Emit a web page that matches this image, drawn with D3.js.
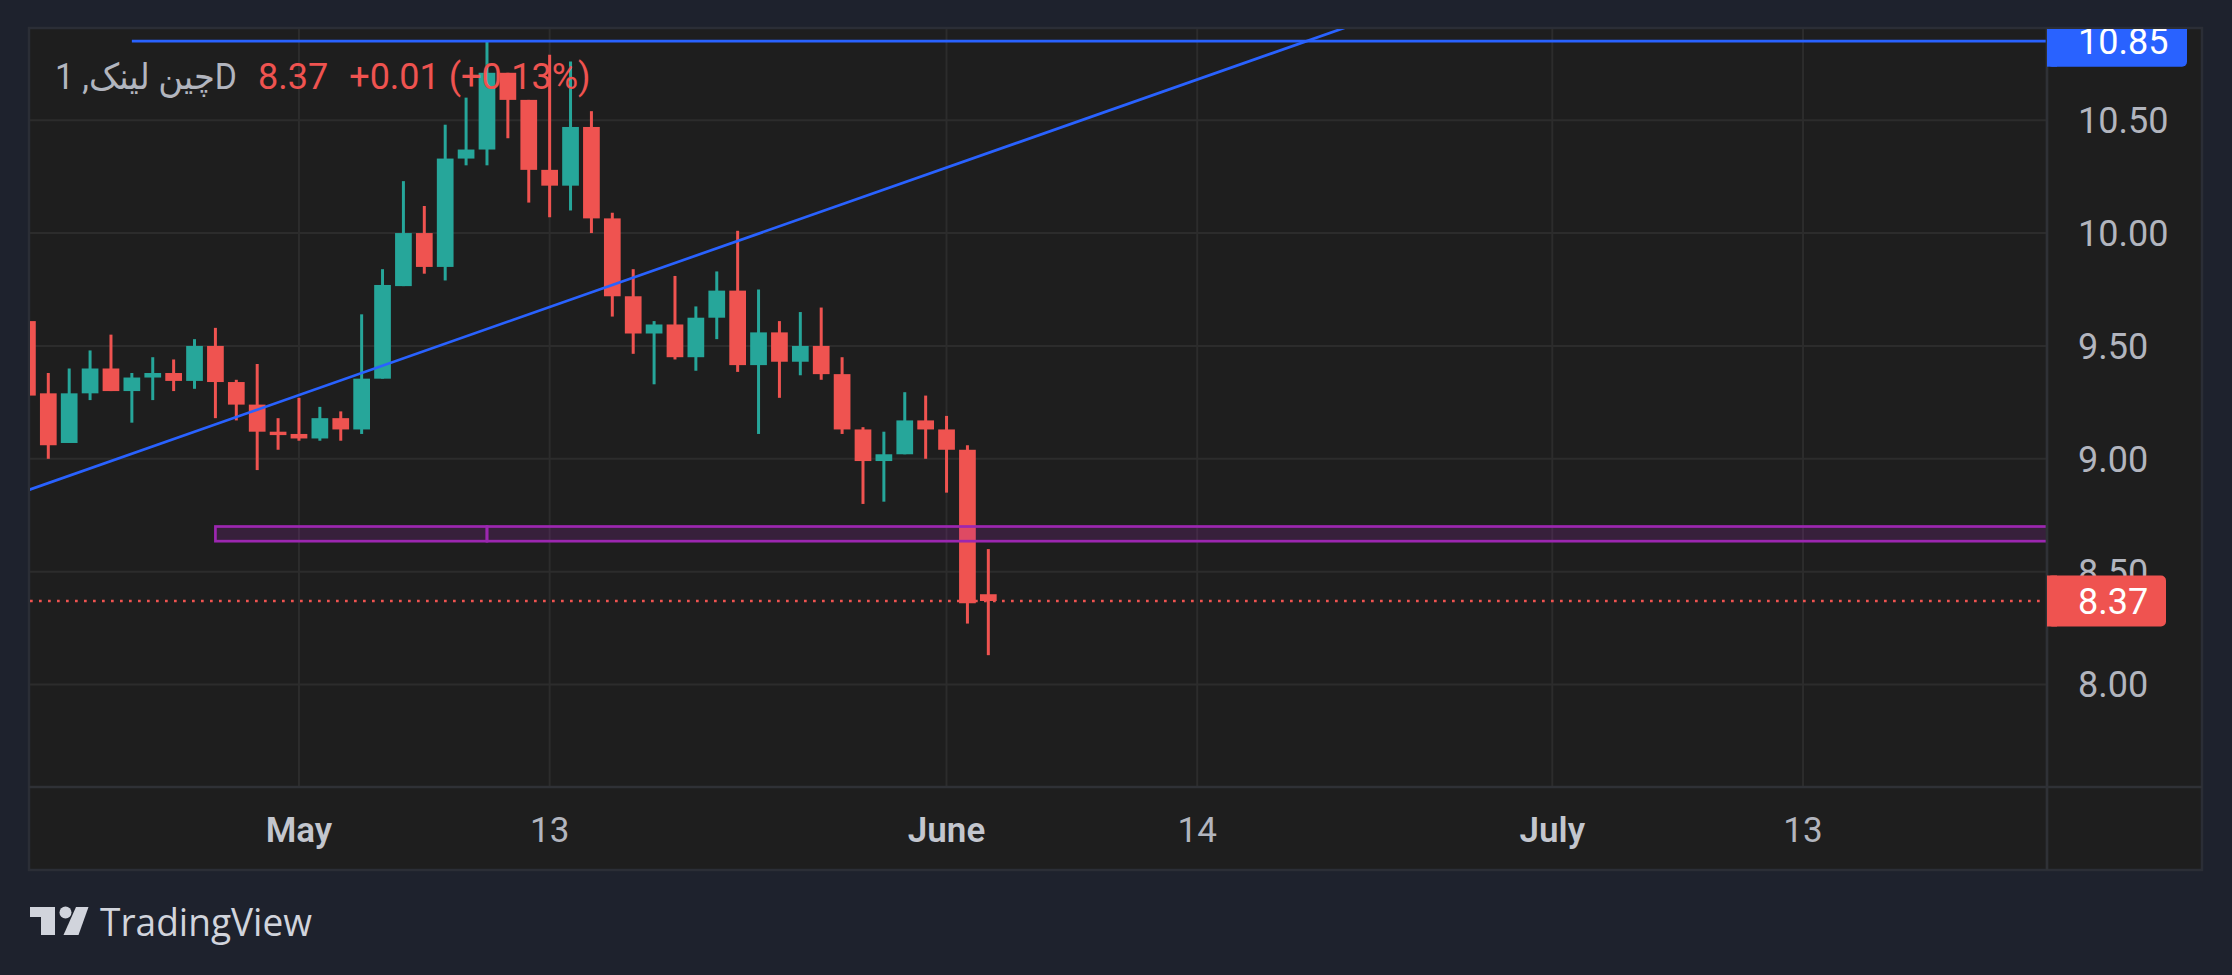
<!DOCTYPE html>
<html>
<head>
<meta charset="utf-8">
<script src="https://cdn.jsdelivr.net/npm/d3@7"></script>
<style>
  html, body { margin: 0; padding: 0; background: #1e222d; }
  svg { display: block; }
</style>
</head>
<body>
<script>
// daily candles, one per calendar day
var dates = ["04-18","04-19","04-20","04-21","04-22","04-23","04-24","04-25","04-26","04-27",
             "04-28","04-29","04-30","05-01","05-02","05-03","05-04","05-05","05-06","05-07",
             "05-08","05-09","05-10","05-11","05-12","05-13","05-14","05-15","05-16","05-17",
             "05-18","05-19","05-20","05-21","05-22","05-23","05-24","05-25","05-26","05-27",
             "05-28","05-29","05-30","05-31","06-01","06-02","06-03"];
var opens  = [9.61,9.29,9.07,9.29,9.40,9.30,9.36,9.38,9.345,9.50,
              9.34,9.24,9.12,9.11,9.09,9.18,9.13,9.355,9.765,10.00,
              9.85,10.33,10.37,10.71,10.59,10.28,10.21,10.47,10.065,9.72,
              9.555,9.595,9.45,9.625,9.745,9.415,9.56,9.43,9.50,9.375,
              9.13,8.99,9.02,9.17,9.13,9.04,8.40];
var highs  = [9.62,9.38,9.40,9.48,9.55,9.38,9.45,9.44,9.53,9.58,
              9.35,9.42,9.18,9.27,9.23,9.21,9.64,9.84,10.23,10.12,
              10.48,10.60,10.85,10.71,10.59,10.79,10.76,10.54,10.09,9.84,
              9.61,9.81,9.675,9.83,10.01,9.75,9.61,9.65,9.67,9.45,
              9.14,9.12,9.295,9.28,9.19,9.06,8.60];
var lows   = [9.27,9.00,9.07,9.26,9.30,9.16,9.26,9.30,9.31,9.18,
              9.17,8.95,9.04,9.08,9.08,9.08,9.11,9.355,9.765,9.82,
              9.79,10.30,10.30,10.42,10.135,10.07,10.10,10.00,9.63,9.465,
              9.33,9.44,9.39,9.53,9.385,9.11,9.27,9.37,9.35,9.11,
              8.80,8.81,9.02,9.00,8.85,8.27,8.13];
var closes = [9.28,9.06,9.29,9.40,9.30,9.36,9.38,9.345,9.50,9.34,
              9.24,9.12,9.105,9.09,9.18,9.13,9.355,9.77,10.00,9.85,
              10.33,10.37,10.71,10.59,10.28,10.21,10.47,10.065,9.72,9.555,
              9.595,9.45,9.625,9.745,9.415,9.56,9.43,9.50,9.375,9.13,
              8.99,9.02,9.17,9.13,9.04,8.36,8.37];

var tickLabels = ["May", "13", "June", "14", "July", "13"];
var tickBars   = [13, 25, 44, 56, 73, 85];
var priceTicks = [8.00, 8.50, 9.00, 9.50, 10.00, 10.50];

// drawings
var trendBars   = [0, 44];
var trendPrices = [8.86, 10.29];
var hlineBar    = 5;
var hlinePrice  = 10.85;
var zoneBars    = [9, 22];
var zonePrices  = [8.70, 8.635];

var lastPrice  = 8.37;
var titleText  = "چین لینک, 1D";
var priceText  = "8.37";
var changeText = "+0.01 (+0.13%)";

var width = 2232;
var height = 975;
var plotLeft = 30, plotRight = 2047, plotTop = 29, plotBottom = 787;
var panelRight = 2202, panelBottom = 870;

var green = "#26a69a", red = "#ef5350", blue = "#2962ff", purple = "#9c27b0";
var axisText = "#b2b5be";
var font = "Roboto, 'DejaVu Sans', sans-serif";

var candles = dates.map(function(d, i) {
  return { date: d, i: i, o: opens[i], h: highs[i], l: lows[i], c: closes[i] };
});

var x = d3.scaleLinear().domain([0.124, 96.68]).range([plotLeft, plotRight]);
var y = d3.scaleLinear().domain([7.546, 10.904]).range([plotBottom, plotTop]);
var step = x(1) - x(0);

var svg = d3.select("body")
  .append("svg")
  .attr("width", width)
  .attr("height", height);

// panel
svg.append("rect")
  .attr("x", 29).attr("y", 28)
  .attr("width", panelRight - 29).attr("height", panelBottom - 28)
  .attr("fill", "#1e1e1e")
  .attr("stroke", "#2b2e36")
  .attr("stroke-width", 2.5);

var defs = svg.append("defs");
defs.append("clipPath").attr("id", "plot")
  .append("rect")
  .attr("x", plotLeft).attr("y", plotTop)
  .attr("width", plotRight - plotLeft).attr("height", plotBottom - plotTop);
defs.append("clipPath").attr("id", "axis")
  .append("rect")
  .attr("x", plotRight).attr("y", plotTop)
  .attr("width", panelRight - plotRight).attr("height", plotBottom - plotTop);

// grid
var grid = svg.append("g").attr("clip-path", "url(#plot)");
grid.selectAll(".vgrid")
  .data(tickBars)
  .enter()
  .append("line")
  .attr("x1", function(d) { return x(d); })
  .attr("x2", function(d) { return x(d); })
  .attr("y1", plotTop).attr("y2", plotBottom)
  .attr("stroke", "#2c2c2c")
  .attr("stroke-width", 2);
grid.selectAll(".hgrid")
  .data(priceTicks)
  .enter()
  .append("line")
  .attr("x1", plotLeft).attr("x2", plotRight)
  .attr("y1", function(d) { return y(d); })
  .attr("y2", function(d) { return y(d); })
  .attr("stroke", "#2c2c2c")
  .attr("stroke-width", 2);

var plot = svg.append("g").attr("clip-path", "url(#plot)");

// last price dotted line
plot.append("line")
  .attr("x1", plotLeft).attr("x2", plotRight)
  .attr("y1", y(lastPrice)).attr("y2", y(lastPrice))
  .attr("stroke", red)
  .attr("stroke-width", 2.7)
  .attr("stroke-dasharray", "2.7 6.3");

// candles
function candleColor(d) {
  return d.c >= d.o ? green : red;
}

plot.selectAll(".wick")
  .data(candles)
  .enter()
  .append("line")
  .attr("x1", function(d) { return x(d.i); })
  .attr("x2", function(d) { return x(d.i); })
  .attr("y1", function(d) { return y(d.h); })
  .attr("y2", function(d) { return y(d.l); })
  .attr("stroke", candleColor)
  .attr("stroke-width", 3);

plot.selectAll(".body")
  .data(candles)
  .enter()
  .append("rect")
  .attr("x", function(d) { return x(d.i) - step * 0.4; })
  .attr("width", step * 0.8)
  .attr("y", function(d) { return y(Math.max(d.o, d.c)); })
  .attr("height", function(d) { return Math.max(2, Math.abs(y(d.o) - y(d.c))); })
  .attr("fill", candleColor);

// zone rectangles
var zoneEnds = [[zoneBars[0], zoneBars[1]], [zoneBars[1], 200]];
plot.selectAll(".zone")
  .data(zoneEnds)
  .enter()
  .append("rect")
  .attr("x", function(d) { return x(d[0]); })
  .attr("width", function(d) { return x(d[1]) - x(d[0]); })
  .attr("y", y(zonePrices[0]))
  .attr("height", y(zonePrices[1]) - y(zonePrices[0]))
  .attr("fill", "rgba(156,39,176,0.2)")
  .attr("stroke", purple)
  .attr("stroke-width", 2.7);

// trend line, extended both ways
var slope = (trendPrices[1] - trendPrices[0]) / (trendBars[1] - trendBars[0]);
function trendAt(b) {
  return trendPrices[0] + (b - trendBars[0]) * slope;
}
plot.append("line")
  .attr("x1", x(-20)).attr("y1", y(trendAt(-20)))
  .attr("x2", x(120)).attr("y2", y(trendAt(120)))
  .attr("stroke", blue)
  .attr("stroke-width", 2.7);

// horizontal ray
plot.append("line")
  .attr("x1", x(hlineBar)).attr("x2", plotRight)
  .attr("y1", y(hlinePrice)).attr("y2", y(hlinePrice))
  .attr("stroke", blue)
  .attr("stroke-width", 2.7);

// separators
svg.append("line")
  .attr("x1", 29).attr("x2", panelRight)
  .attr("y1", plotBottom).attr("y2", plotBottom)
  .attr("stroke", "#2f3136").attr("stroke-width", 2.7);
svg.append("line")
  .attr("x1", plotRight).attr("x2", plotRight)
  .attr("y1", 28).attr("y2", panelBottom)
  .attr("stroke", "#2f3136").attr("stroke-width", 2.7);

// time axis labels
svg.append("g")
  .selectAll("text")
  .data(tickLabels)
  .enter()
  .append("text")
  .attr("x", function(d, i) { return x(tickBars[i]); })
  .attr("y", 842)
  .attr("text-anchor", "middle")
  .attr("font-family", font)
  .attr("font-size", 35)
  .attr("font-weight", function(d) { return isNaN(+d) ? 600 : 400; })
  .attr("fill", function(d) { return isNaN(+d) ? "#c3c6ce" : axisText; })
  .text(function(d) { return d; });

// price axis labels
var axis = svg.append("g").attr("clip-path", "url(#axis)");
axis.selectAll(".ptick")
  .data(priceTicks)
  .enter()
  .append("text")
  .attr("x", 2078)
  .attr("y", function(d) { return y(d); })
  .attr("dy", "0.36em")
  .attr("font-family", font)
  .attr("font-size", 36)
  .attr("fill", axisText)
  .text(function(d) { return d.toFixed(2); });

function priceLabel(price, w, color) {
  var cy = y(price);
  axis.append("rect")
    .attr("x", plotRight).attr("y", cy - 25.5)
    .attr("width", w).attr("height", 51)
    .attr("rx", 5)
    .attr("fill", color);
  axis.append("rect")
    .attr("x", plotRight).attr("y", cy - 25.5)
    .attr("width", 10).attr("height", 51)
    .attr("fill", color);
  axis.append("text")
    .attr("x", 2078).attr("y", cy)
    .attr("dy", "0.36em")
    .attr("font-family", font)
    .attr("font-size", 36)
    .attr("fill", "#ffffff")
    .text(price.toFixed(2));
}
priceLabel(hlinePrice, 140, blue);
priceLabel(lastPrice, 119, red);

// header legend
var header = svg.append("g");
header.append("text")
  .attr("x", 55).attr("y", 89)
  .attr("direction", "ltr")
  .attr("font-family", font)
  .attr("font-size", 36)
  .attr("fill", axisText)
  .attr("textLength", 182)
  .attr("lengthAdjust", "spacingAndGlyphs")
  .text(titleText);
var nextX = 55 + 182 + 21;
var pText = header.append("text")
  .attr("x", nextX).attr("y", 89)
  .attr("font-family", font)
  .attr("font-size", 36)
  .attr("fill", red)
  .text(priceText);
nextX += pText.node().getComputedTextLength() + 21;
header.append("text")
  .attr("x", nextX).attr("y", 89)
  .attr("font-family", font)
  .attr("font-size", 36)
  .attr("fill", red)
  .attr("xml:space", "preserve")
  .text(changeText);

// TradingView logo
var logo = svg.append("g").attr("fill", "#d1d4dc");
logo.append("path")
  .attr("d", "M30,907 H55 V935 H41 V917 H30 Z");
logo.append("circle")
  .attr("cx", 65.5).attr("cy", 912.5).attr("r", 6);
logo.append("path")
  .attr("d", "M76,907 H88.5 L78.5,935 H63.5 Z");
logo.append("text")
  .attr("x", 100).attr("y", 936)
  .attr("font-family", "'Open Sans', Lato, sans-serif")
  .attr("font-size", 38)
  .attr("textLength", 212)
  .attr("lengthAdjust", "spacingAndGlyphs")
  .text("TradingView");
</script>
</body>
</html>
